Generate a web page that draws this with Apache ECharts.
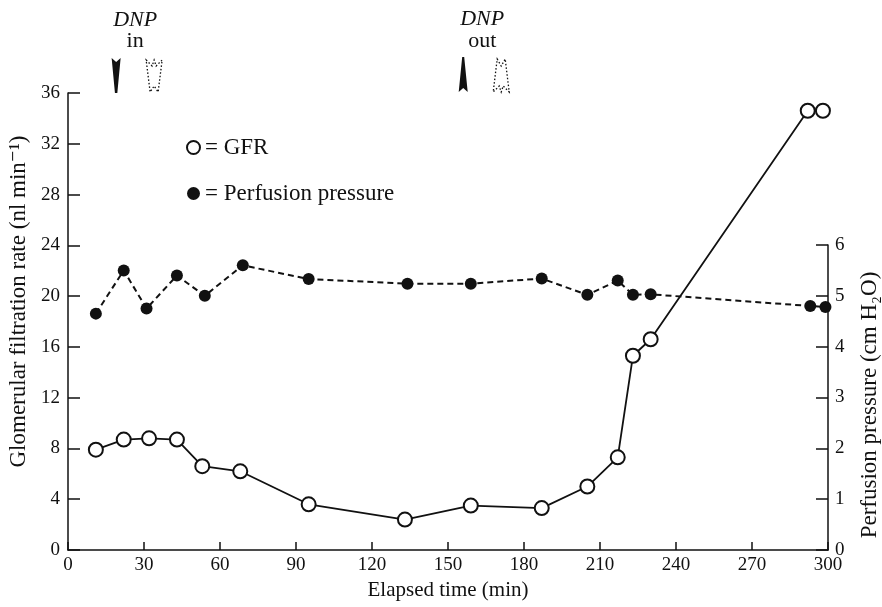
<!DOCTYPE html>
<html>
<head>
<meta charset="utf-8">
<script src="https://cdn.jsdelivr.net/npm/echarts@6/dist/echarts.min.js"></script>
<style>
  html, body { margin: 0; padding: 0; background: #fff; }
  #main { width: 882px; height: 607px; }
</style>
</head>
<body>
<div id="main"></div>
<script>
// GFR (open circles, left axis)
const gfrTime = [11, 22, 32, 43, 53, 68, 95, 133, 159, 187, 205, 217, 223, 230, 292, 298];
const gfrValue = [7.9, 8.7, 8.8, 8.7, 6.6, 6.2, 3.6, 2.4, 3.5, 3.3, 5.0, 7.3, 15.3, 16.6, 34.6, 34.6];

// perfusion pressure (filled dots, right axis)
const ppTime = [11, 22, 31, 43, 54, 69, 95, 134, 159, 187, 205, 217, 223, 230, 293, 299];
const ppValue = [4.65, 5.5, 4.75, 5.4, 5.0, 5.6, 5.33, 5.24, 5.24, 5.34, 5.02, 5.3, 5.02, 5.03, 4.8, 4.78];

// DNP markers: [solid arrow, dotted arrow] times in min
const dnpInTimes = [19, 34];
const dnpOutTimes = [156, 171];

const serif = "'Liberation Serif', 'DejaVu Serif', serif";
const ink = "#111";

const chart = echarts.init(document.getElementById("main"));

const axisCommon = {
  axisLine: { show: true, onZero: false, lineStyle: { color: ink, width: 1.5 } },
  axisTick: { show: true, inside: true, lineStyle: { color: ink, width: 1.5 } },
  splitLine: { show: false },
  axisLabel: { color: ink, fontFamily: serif, fontSize: 19 },
  nameTextStyle: { color: ink, fontFamily: serif, fontSize: 23 },
};

chart.setOption({
  animation: false,
  backgroundColor: "#fff",
  grid: [
    { left: 68, right: 54, top: 93, bottom: 57, outerBoundsMode: "none" },
    { left: 68, right: 54, top: 245, bottom: 57, outerBoundsMode: "none" },
  ],
  legend: {
    orient: "vertical",
    left: 186,
    top: 136,
    padding: 0,
    itemGap: 23,
    itemWidth: 13,
    itemHeight: 13,
    textStyle: { color: ink, fontFamily: serif, fontSize: 23 },
    formatter: name => "= " + name,
    data: [
      { name: "GFR", icon: "circle", itemStyle: { color: "#fff", borderColor: ink, borderWidth: 2 } },
      { name: "Perfusion pressure", icon: "circle", itemStyle: { color: ink, borderWidth: 0 } },
    ],
  },
  xAxis: [
    {
      ...axisCommon,
      gridIndex: 0,
      type: "value",
      min: 0,
      max: 300,
      interval: 30,
      axisTick: { ...axisCommon.axisTick, length: 8 },
      axisLabel: { ...axisCommon.axisLabel, margin: 6 },
      name: "Elapsed time (min)",
      nameLocation: "middle",
      nameGap: 22,
      nameTextStyle: { ...axisCommon.nameTextStyle, fontSize: 21 },
    },
    { gridIndex: 1, type: "value", min: 0, max: 300, show: false },
  ],
  yAxis: [
    {
      ...axisCommon,
      gridIndex: 0,
      type: "value",
      min: 0,
      max: 36,
      interval: 4,
      axisTick: { ...axisCommon.axisTick, length: 12 },
      axisLabel: { ...axisCommon.axisLabel, margin: 8 },
      name: "Glomerular filtration rate (nl min\u207B\u00B9)",
      nameLocation: "middle",
      nameGap: 38,
      nameTextStyle: { ...axisCommon.nameTextStyle, padding: [0, 0, 0, 40] },
    },
    {
      ...axisCommon,
      gridIndex: 1,
      type: "value",
      position: "right",
      min: 0,
      max: 6,
      interval: 1,
      axisTick: { ...axisCommon.axisTick, length: 12 },
      axisLabel: { ...axisCommon.axisLabel, margin: 7 },
      name: "Perfusion pressure (cm H\u2082O)",
      nameLocation: "middle",
      nameRotate: 90,
      nameGap: 30,
      nameTextStyle: { ...axisCommon.nameTextStyle, padding: [0, 15, 0, 0] },
    },
  ],
  series: [
    {
      name: "GFR",
      type: "line",
      xAxisIndex: 0,
      yAxisIndex: 0,
      symbol: "circle",
      symbolSize: 14,
      z: 3,
      itemStyle: { color: "#fff", borderColor: ink, borderWidth: 2 },
      lineStyle: { color: ink, width: 1.8 },
      data: gfrTime.map((t, i) => [t, gfrValue[i]]),
    },
    {
      name: "Perfusion pressure",
      type: "line",
      xAxisIndex: 1,
      yAxisIndex: 1,
      symbol: "circle",
      symbolSize: 12,
      z: 2,
      itemStyle: { color: ink },
      lineStyle: { color: ink, width: 2, type: [6, 4] },
      data: ppTime.map((t, i) => [t, ppValue[i]]),
    },
  ],
});

// DNP annotations placed through the x scale
const px = t => chart.convertToPixel({ xAxisIndex: 0 }, t);
const label = (x, y, text, italic) => ({
  type: "text",
  x: x,
  y: y,
  style: {
    text: text,
    fill: ink,
    font: (italic ? "italic " : "") + "22px " + serif,
    align: "center",
    verticalAlign: "middle",
  },
});
const solid = (x, pts) => ({ type: "polygon", x: x, y: 0, shape: { points: pts }, style: { fill: ink } });
const dotted = (x, pts) => ({
  type: "polygon",
  x: x,
  y: 0,
  shape: { points: pts },
  style: { fill: "none", stroke: ink, lineWidth: 1.3, lineDash: [1.5, 2] },
});

const inMid = (px(dnpInTimes[0]) + px(dnpInTimes[1])) / 2;
const outMid = (px(dnpOutTimes[0]) + px(dnpOutTimes[1])) / 2;

chart.setOption({
  graphic: [
    label(inMid, 20, "DNP", true),
    label(inMid, 41, "in", false),
    solid(px(dnpInTimes[0]), [[-4.5, 58], [0, 62], [4.5, 58], [1.2, 93], [-1.2, 93]]),
    dotted(px(dnpInTimes[1]), [[-8, 60], [-2, 66], [0, 60], [2, 66], [8, 60], [4, 92], [0, 86], [-4, 92]]),
    label(outMid, 19, "DNP", true),
    label(outMid, 41, "out", false),
    solid(px(dnpOutTimes[0]), [[-1, 57], [1, 57], [4.5, 92], [0, 88], [-4.5, 92]]),
    dotted(px(dnpOutTimes[1]), [[-4, 59], [0, 66], [4, 59], [8, 92], [2, 86], [0, 92], [-2, 86], [-8, 92]]),
  ],
});
</script>
</body>
</html>
